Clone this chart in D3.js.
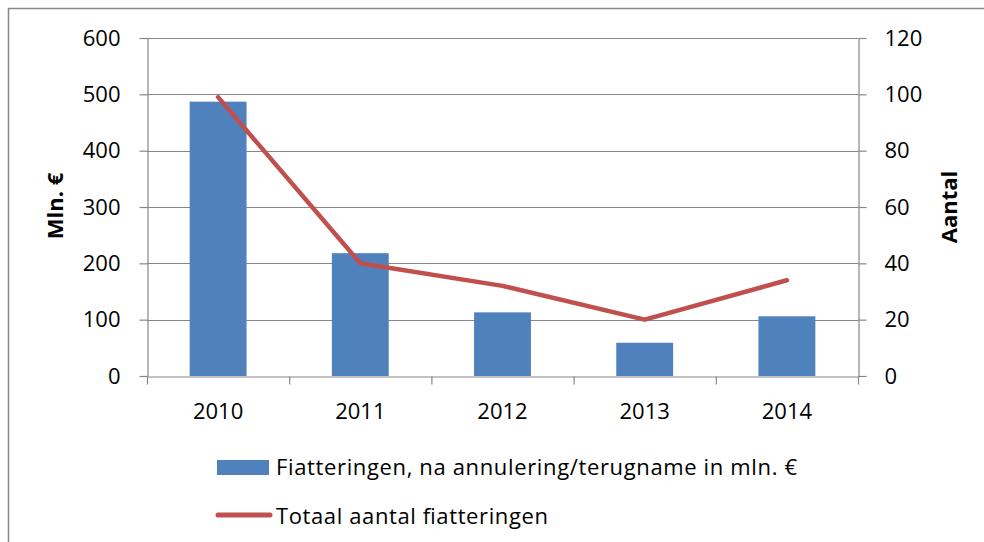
<!DOCTYPE html>
<html>
<head>
<meta charset="utf-8">
<script src="https://cdn.jsdelivr.net/npm/d3@7"></script>
<style>
  body { margin: 0; background: #fff; }
  svg text { font-family: "Open Sans", Lato, sans-serif; fill: #000; }
</style>
</head>
<body>
<div id="chart"></div>
<script>
// Chart data
var years = ['2010', '2011', '2012', '2013', '2014'];
var bedragen = [487, 218, 113, 59, 106];   // mln. euro (left axis)
var aantallen = [99, 40, 32, 20, 34];      // count (right axis)
var leftTicks = [0, 100, 200, 300, 400, 500, 600];
var rightTicks = [0, 20, 40, 60, 80, 100, 120];
var barLabel = 'Fiatteringen, na annulering/terugname in mln. €';
var lineLabel = 'Totaal aantal fiatteringen';

var W = 984, H = 542;
var plot = {left: 147, right: 858, top: 38, bottom: 376};
var fontSize = '22px';

var svg = d3.select('#chart').append('svg')
            .attr('width', W)
            .attr('height', H);

// outer frame
svg.append('rect')
   .attr('x', 8.5).attr('y', 8.5)
   .attr('width', W + 10).attr('height', H + 10)
   .attr('fill', 'none')
   .attr('stroke', '#898989')
   .attr('stroke-width', 1.5);

var x = d3.scaleBand()
          .domain(years)
          .range([plot.left, plot.right])
          .paddingInner(0.6)
          .paddingOuter(0.3);

var yL = d3.scaleLinear().domain([0, 600]).range([plot.bottom, plot.top]);
var yR = d3.scaleLinear().domain([0, 120]).range([plot.bottom, plot.top]);

// gridlines
svg.append('g')
   .selectAll('line')
   .data(leftTicks.slice(1))
   .enter().append('line')
   .attr('x1', plot.left).attr('x2', plot.right)
   .attr('y1', function(d) { return Math.round(yL(d)) + 0.5; })
   .attr('y2', function(d) { return Math.round(yL(d)) + 0.5; })
   .attr('stroke', '#878787')
   .attr('stroke-width', 1.2);

// bars
svg.append('g')
   .selectAll('rect')
   .data(bedragen)
   .enter().append('rect')
   .attr('x', function(d, i) { return x(years[i]); })
   .attr('width', x.bandwidth())
   .attr('y', function(d) { return yL(d); })
   .attr('height', function(d) { return yL(0) - yL(d); })
   .attr('fill', '#4F81BD');

// left axis
var leftAxis = d3.axisLeft(yL).tickValues(leftTicks).tickSizeInner(8).tickSizeOuter(0).tickPadding(19);
var gL = svg.append('g')
   .attr('transform', 'translate(' + (plot.left + 0.5) + ',0)')
   .call(leftAxis);

// right axis
var rightAxis = d3.axisRight(yR).tickValues(rightTicks).tickSizeInner(8).tickSizeOuter(0).tickPadding(18);
var gR = svg.append('g')
   .attr('transform', 'translate(' + (plot.right + 0.5) + ',0)')
   .call(rightAxis);

// bottom axis: ticks on category boundaries
var bottomAxis = d3.axisBottom(x).tickSize(0);
var gB = svg.append('g')
   .attr('transform', 'translate(0,' + (plot.bottom + 0.5) + ')')
   .call(bottomAxis);
gB.selectAll('.boundary')
  .data(d3.range(years.length + 1))
  .enter().append('line')
  .attr('class', 'boundary')
  .attr('x1', function(i) { return plot.left + 0.5 + i * (plot.right - plot.left) / years.length; })
  .attr('x2', function(i) { return plot.left + 0.5 + i * (plot.right - plot.left) / years.length; })
  .attr('y1', 0).attr('y2', 8)
  .attr('stroke', '#878787')
  .attr('stroke-width', 1.2);

[gL, gR, gB].forEach(function(g) {
  g.selectAll('.domain').attr('stroke', '#878787').attr('stroke-width', 1.2);
  g.selectAll('.tick line').attr('stroke', '#878787').attr('stroke-width', 1.2);
  g.selectAll('.tick text').style('font-size', fontSize).attr('fill', '#000');
  g.attr('font-family', null).attr('font-size', null);
});
gB.selectAll('.tick text').attr('dy', null).attr('y', 42);

// line series
var line = d3.line()
             .x(function(d, i) { return x(years[i]) + x.bandwidth() / 2; })
             .y(function(d) { return yR(d); });

svg.append('path')
   .attr('d', line(aantallen))
   .attr('fill', 'none')
   .attr('stroke', '#C0504D')
   .attr('stroke-width', 4.5)
   .attr('stroke-linejoin', 'round')
   .attr('stroke-linecap', 'round');

// axis titles
svg.append('text')
   .attr('transform', 'translate(63,206) rotate(-90)')
   .attr('text-anchor', 'middle')
   .style('font-size', fontSize)
   .style('font-weight', 'bold')
   .text('Mln. €');

svg.append('text')
   .attr('transform', 'translate(957,207) rotate(-90)')
   .attr('text-anchor', 'middle')
   .style('font-size', fontSize)
   .style('font-weight', 'bold')
   .text('Aantal');

// legend
var legend = svg.append('g');
legend.append('rect')
      .attr('x', 217).attr('y', 460)
      .attr('width', 52).attr('height', 15)
      .attr('fill', '#4F81BD');
legend.append('text')
      .attr('x', 276).attr('y', 475)
      .attr('textLength', 521)
      .attr('lengthAdjust', 'spacing')
      .style('font-size', fontSize)
      .text(barLabel);
legend.append('line')
      .attr('x1', 218).attr('x2', 270)
      .attr('y1', 515).attr('y2', 515)
      .attr('stroke', '#C0504D')
      .attr('stroke-width', 5)
      .attr('stroke-linecap', 'round');
legend.append('text')
      .attr('x', 276).attr('y', 524)
      .attr('textLength', 272)
      .attr('lengthAdjust', 'spacing')
      .style('font-size', fontSize)
      .text(lineLabel);
</script>
</body>
</html>
